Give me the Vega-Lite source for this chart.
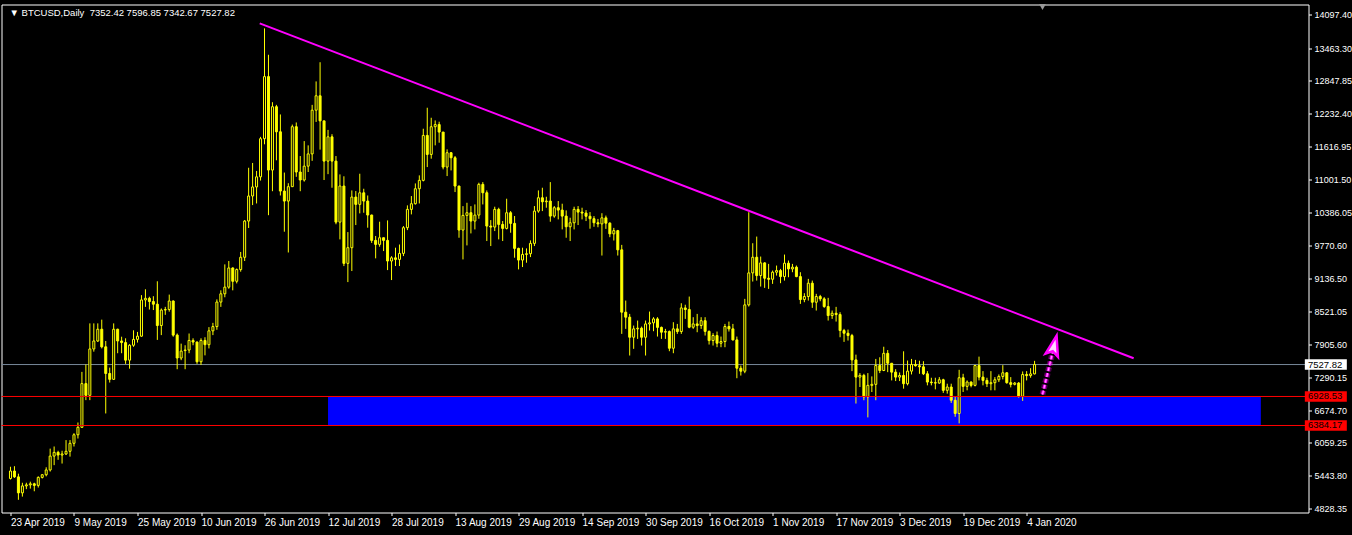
{
"$schema":"https://vega.github.io/schema/vega-lite/v6.json",
"width":1307,"height":508,
"autosize":{"type":"none"},
"padding":{"left":1.5,"top":4.5,"right":43.5,"bottom":22.5},
"background":"#000000",
"config":{"view":{"stroke":"#ffffff","strokeWidth":1},"axis":{"grid":false,"domain":false,"labelColor":"#ffffff","tickColor":"#ffffff","labelFont":"Liberation Sans","labelOverlap":false,"labelBound":false,"labelFlush":false}},
"title":{"text":"▼  BTCUSD,Daily\u00a0 7352.42 7596.85 7342.67 7527.82","anchor":"start","frame":"group","orient":"top","offset":-13,"dx":8,"font":"Liberation Sans","fontSize":9.5,"fontWeight":"normal","color":"#ffffff"},
"datasets":{
"candles":[
{"d":"2019-04-23","o":5390,"h":5610,"l":5370,"c":5530},
{"d":"2019-04-24","o":5530,"h":5620,"l":5400,"c":5420},
{"d":"2019-04-25","o":5420,"h":5480,"l":4990,"c":5120},
{"d":"2019-04-26","o":5120,"h":5310,"l":5050,"c":5250},
{"d":"2019-04-27","o":5250,"h":5310,"l":5190,"c":5270},
{"d":"2019-04-28","o":5270,"h":5330,"l":5200,"c":5290},
{"d":"2019-04-29","o":5290,"h":5310,"l":5150,"c":5260},
{"d":"2019-04-30","o":5260,"h":5430,"l":5220,"c":5410},
{"d":"2019-05-01","o":5410,"h":5470,"l":5390,"c":5460},
{"d":"2019-05-02","o":5460,"h":5600,"l":5430,"c":5550},
{"d":"2019-05-03","o":5550,"h":5950,"l":5520,"c":5810},
{"d":"2019-05-04","o":5810,"h":5990,"l":5640,"c":5880},
{"d":"2019-05-05","o":5880,"h":5910,"l":5740,"c":5830},
{"d":"2019-05-06","o":5830,"h":5910,"l":5670,"c":5850},
{"d":"2019-05-07","o":5850,"h":6110,"l":5830,"c":5900},
{"d":"2019-05-08","o":5900,"h":6110,"l":5800,"c":6050},
{"d":"2019-05-09","o":6050,"h":6240,"l":5990,"c":6210},
{"d":"2019-05-10","o":6210,"h":6440,"l":6140,"c":6350},
{"d":"2019-05-11","o":6350,"h":7390,"l":6340,"c":7170},
{"d":"2019-05-12","o":7170,"h":7530,"l":6860,"c":6950},
{"d":"2019-05-13","o":6950,"h":8300,"l":6860,"c":7820},
{"d":"2019-05-14","o":7820,"h":8300,"l":7770,"c":7970},
{"d":"2019-05-15","o":7970,"h":8300,"l":7950,"c":8190},
{"d":"2019-05-16","o":8190,"h":8370,"l":7830,"c":7860},
{"d":"2019-05-17","o":7860,"h":7970,"l":6610,"c":7360},
{"d":"2019-05-18","o":7360,"h":7470,"l":7190,"c":7250},
{"d":"2019-05-19","o":7250,"h":8300,"l":7240,"c":8190},
{"d":"2019-05-20","o":8190,"h":8200,"l":7740,"c":7970},
{"d":"2019-05-21","o":7970,"h":8050,"l":7740,"c":7940},
{"d":"2019-05-22","o":7940,"h":8020,"l":7540,"c":7610},
{"d":"2019-05-23","o":7610,"h":7910,"l":7450,"c":7890},
{"d":"2019-05-24","o":7890,"h":8170,"l":7860,"c":8000},
{"d":"2019-05-25","o":8000,"h":8140,"l":7940,"c":8060},
{"d":"2019-05-26","o":8060,"h":8830,"l":8050,"c":8740},
{"d":"2019-05-27","o":8740,"h":8940,"l":8610,"c":8770},
{"d":"2019-05-28","o":8770,"h":8800,"l":8560,"c":8710},
{"d":"2019-05-29","o":8710,"h":8810,"l":8550,"c":8660},
{"d":"2019-05-30","o":8660,"h":9090,"l":7990,"c":8260},
{"d":"2019-05-31","o":8260,"h":8580,"l":8080,"c":8550},
{"d":"2019-06-01","o":8550,"h":8610,"l":8460,"c":8560},
{"d":"2019-06-02","o":8560,"h":8840,"l":8520,"c":8720},
{"d":"2019-06-03","o":8720,"h":8730,"l":8050,"c":8080},
{"d":"2019-06-04","o":8080,"h":8110,"l":7440,"c":7650},
{"d":"2019-06-05","o":7650,"h":7920,"l":7610,"c":7780},
{"d":"2019-06-06","o":7790,"h":7890,"l":7440,"c":7800},
{"d":"2019-06-07","o":7800,"h":8110,"l":7740,"c":7980},
{"d":"2019-06-08","o":7980,"h":8020,"l":7890,"c":7950},
{"d":"2019-06-09","o":7950,"h":7960,"l":7540,"c":7580},
{"d":"2019-06-10","o":7580,"h":8020,"l":7520,"c":7980},
{"d":"2019-06-11","o":7980,"h":8040,"l":7700,"c":7900},
{"d":"2019-06-12","o":7900,"h":8230,"l":7830,"c":8160},
{"d":"2019-06-13","o":8160,"h":8310,"l":8080,"c":8240},
{"d":"2019-06-14","o":8240,"h":8750,"l":8180,"c":8700},
{"d":"2019-06-15","o":8700,"h":8920,"l":8610,"c":8855},
{"d":"2019-06-16","o":8855,"h":9407,"l":8790,"c":8980},
{"d":"2019-06-17","o":8980,"h":9470,"l":8950,"c":9340},
{"d":"2019-06-18","o":9340,"h":9350,"l":8920,"c":9090},
{"d":"2019-06-19","o":9090,"h":9330,"l":9050,"c":9310},
{"d":"2019-06-20","o":9310,"h":9640,"l":9270,"c":9540},
{"d":"2019-06-21","o":9540,"h":10240,"l":9470,"c":10220},
{"d":"2019-06-22","o":10220,"h":11220,"l":10090,"c":10690},
{"d":"2019-06-23","o":10690,"h":11310,"l":10520,"c":10860},
{"d":"2019-06-24","o":10860,"h":11160,"l":10550,"c":11050},
{"d":"2019-06-25","o":11050,"h":11800,"l":10980,"c":11765},
{"d":"2019-06-26","o":11765,"h":13835,"l":11660,"c":12930},
{"d":"2019-06-27","o":12930,"h":13340,"l":10330,"c":11177},
{"d":"2019-06-28","o":11177,"h":12450,"l":10780,"c":12365},
{"d":"2019-06-29","o":12365,"h":12400,"l":11360,"c":11895},
{"d":"2019-06-30","o":11895,"h":12220,"l":10700,"c":10783},
{"d":"2019-07-01","o":10783,"h":11130,"l":10020,"c":10595},
{"d":"2019-07-02","o":10595,"h":10930,"l":9630,"c":10865},
{"d":"2019-07-03","o":10865,"h":12030,"l":10860,"c":11990},
{"d":"2019-07-04","o":11990,"h":12070,"l":11050,"c":11140},
{"d":"2019-07-05","o":11140,"h":11440,"l":10780,"c":10990},
{"d":"2019-07-06","o":10990,"h":11720,"l":10960,"c":11250},
{"d":"2019-07-07","o":11250,"h":11640,"l":11140,"c":11480},
{"d":"2019-07-08","o":11480,"h":12400,"l":11350,"c":12300},
{"d":"2019-07-09","o":12300,"h":12840,"l":12080,"c":12570},
{"d":"2019-07-10","o":12570,"h":13200,"l":11560,"c":12100},
{"d":"2019-07-11","o":12100,"h":12100,"l":10990,"c":11345},
{"d":"2019-07-12","o":11345,"h":11930,"l":11100,"c":11800},
{"d":"2019-07-13","o":11800,"h":11850,"l":10845,"c":11345},
{"d":"2019-07-14","o":11345,"h":11440,"l":10160,"c":10200},
{"d":"2019-07-15","o":10200,"h":11095,"l":9876,"c":10877},
{"d":"2019-07-16","o":10877,"h":11060,"l":9375,"c":9426},
{"d":"2019-07-17","o":9426,"h":10013,"l":9075,"c":9720},
{"d":"2019-07-18","o":9720,"h":10795,"l":9282,"c":10670},
{"d":"2019-07-19","o":10670,"h":10783,"l":10145,"c":10533},
{"d":"2019-07-20","o":10533,"h":11108,"l":10364,"c":10750},
{"d":"2019-07-21","o":10750,"h":10826,"l":10376,"c":10595},
{"d":"2019-07-22","o":10595,"h":10700,"l":10095,"c":10333},
{"d":"2019-07-23","o":10333,"h":10340,"l":9810,"c":9857},
{"d":"2019-07-24","o":9857,"h":9940,"l":9520,"c":9782},
{"d":"2019-07-25","o":9782,"h":10208,"l":9738,"c":9907},
{"d":"2019-07-26","o":9907,"h":9910,"l":9657,"c":9857},
{"d":"2019-07-27","o":9857,"h":10232,"l":9300,"c":9470},
{"d":"2019-07-28","o":9470,"h":9560,"l":9113,"c":9530},
{"d":"2019-07-29","o":9530,"h":9720,"l":9376,"c":9500},
{"d":"2019-07-30","o":9500,"h":9780,"l":9376,"c":9613},
{"d":"2019-07-31","o":9613,"h":10126,"l":9563,"c":10095},
{"d":"2019-08-01","o":10095,"h":10514,"l":10050,"c":10439},
{"d":"2019-08-02","o":10439,"h":10689,"l":10345,"c":10545},
{"d":"2019-08-03","o":10545,"h":10926,"l":10530,"c":10826},
{"d":"2019-08-04","o":10826,"h":11077,"l":10550,"c":10983},
{"d":"2019-08-05","o":10983,"h":11952,"l":10964,"c":11827},
{"d":"2019-08-06","o":11827,"h":12346,"l":11233,"c":11470},
{"d":"2019-08-07","o":11470,"h":12158,"l":11390,"c":11990},
{"d":"2019-08-08","o":11990,"h":12108,"l":11640,"c":12030},
{"d":"2019-08-09","o":12030,"h":12084,"l":11690,"c":11890},
{"d":"2019-08-10","o":11890,"h":11890,"l":11190,"c":11233},
{"d":"2019-08-11","o":11233,"h":11565,"l":11064,"c":11502},
{"d":"2019-08-12","o":11502,"h":11515,"l":11170,"c":11408},
{"d":"2019-08-13","o":11408,"h":11440,"l":10764,"c":10877},
{"d":"2019-08-14","o":10877,"h":10880,"l":9907,"c":10051},
{"d":"2019-08-15","o":10051,"h":10500,"l":9500,"c":10326},
{"d":"2019-08-16","o":10326,"h":10563,"l":9763,"c":10376},
{"d":"2019-08-17","o":10376,"h":10500,"l":9988,"c":10220},
{"d":"2019-08-18","o":10220,"h":10532,"l":10063,"c":10332},
{"d":"2019-08-19","o":10332,"h":10939,"l":10263,"c":10908},
{"d":"2019-08-20","o":10908,"h":10951,"l":10532,"c":10751},
{"d":"2019-08-21","o":10751,"h":10795,"l":9845,"c":10126},
{"d":"2019-08-22","o":10126,"h":10238,"l":9751,"c":10107},
{"d":"2019-08-23","o":10107,"h":10489,"l":10032,"c":10439},
{"d":"2019-08-24","o":10439,"h":10470,"l":9876,"c":10157},
{"d":"2019-08-25","o":10157,"h":10220,"l":9845,"c":10082},
{"d":"2019-08-26","o":10082,"h":10639,"l":10063,"c":10376},
{"d":"2019-08-27","o":10376,"h":10407,"l":10001,"c":10176},
{"d":"2019-08-28","o":10176,"h":10314,"l":9532,"c":9707},
{"d":"2019-08-29","o":9707,"h":9720,"l":9313,"c":9488},
{"d":"2019-08-30","o":9488,"h":9720,"l":9357,"c":9594},
{"d":"2019-08-31","o":9594,"h":9707,"l":9438,"c":9607},
{"d":"2019-09-01","o":9607,"h":9857,"l":9544,"c":9801},
{"d":"2019-09-02","o":9801,"h":10501,"l":9751,"c":10407},
{"d":"2019-09-03","o":10407,"h":10795,"l":10376,"c":10657},
{"d":"2019-09-04","o":10657,"h":10845,"l":10407,"c":10582},
{"d":"2019-09-05","o":10582,"h":10676,"l":10470,"c":10595},
{"d":"2019-09-06","o":10595,"h":10951,"l":10207,"c":10313},
{"d":"2019-09-07","o":10313,"h":10501,"l":10282,"c":10470},
{"d":"2019-09-08","o":10470,"h":10595,"l":10251,"c":10426},
{"d":"2019-09-09","o":10426,"h":10545,"l":10063,"c":10313},
{"d":"2019-09-10","o":10313,"h":10420,"l":9907,"c":10113},
{"d":"2019-09-11","o":10113,"h":10282,"l":9845,"c":10188},
{"d":"2019-09-12","o":10188,"h":10489,"l":10063,"c":10439},
{"d":"2019-09-13","o":10439,"h":10501,"l":10145,"c":10388},
{"d":"2019-09-14","o":10388,"h":10470,"l":10251,"c":10370},
{"d":"2019-09-15","o":10370,"h":10426,"l":10220,"c":10310},
{"d":"2019-09-16","o":10310,"h":10388,"l":10076,"c":10264},
{"d":"2019-09-17","o":10264,"h":10313,"l":10113,"c":10188},
{"d":"2019-09-18","o":10188,"h":10260,"l":10104,"c":10167},
{"d":"2019-09-19","o":10167,"h":10367,"l":9573,"c":10280},
{"d":"2019-09-20","o":10280,"h":10323,"l":10073,"c":10180},
{"d":"2019-09-21","o":10180,"h":10198,"l":9917,"c":9980},
{"d":"2019-09-22","o":9980,"h":10092,"l":9855,"c":10040},
{"d":"2019-09-23","o":10040,"h":10054,"l":9573,"c":9680},
{"d":"2019-09-24","o":9680,"h":9773,"l":8103,"c":8510},
{"d":"2019-09-25","o":8510,"h":8728,"l":8197,"c":8416},
{"d":"2019-09-26","o":8416,"h":8478,"l":7697,"c":8040},
{"d":"2019-09-27","o":8040,"h":8259,"l":7822,"c":8197},
{"d":"2019-09-28","o":8197,"h":8353,"l":8009,"c":8210},
{"d":"2019-09-29","o":8210,"h":8240,"l":7884,"c":8040},
{"d":"2019-09-30","o":8040,"h":8353,"l":7697,"c":8290},
{"d":"2019-10-01","o":8290,"h":8522,"l":8166,"c":8310},
{"d":"2019-10-02","o":8310,"h":8416,"l":8153,"c":8384},
{"d":"2019-10-03","o":8384,"h":8416,"l":8053,"c":8225},
{"d":"2019-10-04","o":8225,"h":8240,"l":8009,"c":8135},
{"d":"2019-10-05","o":8135,"h":8197,"l":8009,"c":8147},
{"d":"2019-10-06","o":8147,"h":8166,"l":7778,"c":7834},
{"d":"2019-10-07","o":7834,"h":8322,"l":7740,"c":8197},
{"d":"2019-10-08","o":8197,"h":8290,"l":8103,"c":8147},
{"d":"2019-10-09","o":8147,"h":8678,"l":8103,"c":8590},
{"d":"2019-10-10","o":8590,"h":8650,"l":8384,"c":8560},
{"d":"2019-10-11","o":8560,"h":8803,"l":8209,"c":8228},
{"d":"2019-10-12","o":8228,"h":8416,"l":8197,"c":8290},
{"d":"2019-10-13","o":8290,"h":8478,"l":8134,"c":8260},
{"d":"2019-10-14","o":8260,"h":8416,"l":8197,"c":8350},
{"d":"2019-10-15","o":8350,"h":8416,"l":8072,"c":8150},
{"d":"2019-10-16","o":8150,"h":8166,"l":7903,"c":7978},
{"d":"2019-10-17","o":7978,"h":8116,"l":7884,"c":8072},
{"d":"2019-10-18","o":8072,"h":8147,"l":7853,"c":7928},
{"d":"2019-10-19","o":7928,"h":8053,"l":7853,"c":7959},
{"d":"2019-10-20","o":7959,"h":8290,"l":7853,"c":8241},
{"d":"2019-10-21","o":8241,"h":8334,"l":8147,"c":8197},
{"d":"2019-10-22","o":8197,"h":8290,"l":7978,"c":7990},
{"d":"2019-10-23","o":7990,"h":8053,"l":7271,"c":7459},
{"d":"2019-10-24","o":7459,"h":7509,"l":7321,"c":7403},
{"d":"2019-10-25","o":7403,"h":8760,"l":7365,"c":8647},
{"d":"2019-10-26","o":8647,"h":10386,"l":8616,"c":9247},
{"d":"2019-10-27","o":9247,"h":9804,"l":9085,"c":9541},
{"d":"2019-10-28","o":9541,"h":9929,"l":9103,"c":9197},
{"d":"2019-10-29","o":9197,"h":9554,"l":8991,"c":9435},
{"d":"2019-10-30","o":9435,"h":9447,"l":8966,"c":9147},
{"d":"2019-10-31","o":9147,"h":9416,"l":8947,"c":9128},
{"d":"2019-11-01","o":9128,"h":9291,"l":9041,"c":9260},
{"d":"2019-11-02","o":9260,"h":9385,"l":9197,"c":9291},
{"d":"2019-11-03","o":9291,"h":9322,"l":9054,"c":9178},
{"d":"2019-11-04","o":9178,"h":9591,"l":9103,"c":9429},
{"d":"2019-11-05","o":9429,"h":9479,"l":9166,"c":9322},
{"d":"2019-11-06","o":9322,"h":9416,"l":9260,"c":9354},
{"d":"2019-11-07","o":9354,"h":9385,"l":9166,"c":9178},
{"d":"2019-11-08","o":9178,"h":9260,"l":8666,"c":8747},
{"d":"2019-11-09","o":8747,"h":8866,"l":8697,"c":8804},
{"d":"2019-11-10","o":8804,"h":9135,"l":8728,"c":9054},
{"d":"2019-11-11","o":9054,"h":9103,"l":8591,"c":8697},
{"d":"2019-11-12","o":8697,"h":8854,"l":8541,"c":8804},
{"d":"2019-11-13","o":8804,"h":8835,"l":8716,"c":8760},
{"d":"2019-11-14","o":8760,"h":8791,"l":8591,"c":8616},
{"d":"2019-11-15","o":8616,"h":8779,"l":8353,"c":8447},
{"d":"2019-11-16","o":8447,"h":8541,"l":8384,"c":8490},
{"d":"2019-11-17","o":8490,"h":8610,"l":8334,"c":8466},
{"d":"2019-11-18","o":8466,"h":8510,"l":8040,"c":8166},
{"d":"2019-11-19","o":8166,"h":8197,"l":7953,"c":8115},
{"d":"2019-11-20","o":8115,"h":8184,"l":7978,"c":8072},
{"d":"2019-11-21","o":8072,"h":8103,"l":7404,"c":7615},
{"d":"2019-11-22","o":7615,"h":7714,"l":6796,"c":7292},
{"d":"2019-11-23","o":7292,"h":7367,"l":7106,"c":7324},
{"d":"2019-11-24","o":7324,"h":7354,"l":6858,"c":6920},
{"d":"2019-11-25","o":6920,"h":7367,"l":6536,"c":7137},
{"d":"2019-11-26","o":7137,"h":7305,"l":7012,"c":7156},
{"d":"2019-11-27","o":7156,"h":7633,"l":6858,"c":7509},
{"d":"2019-11-28","o":7509,"h":7664,"l":7367,"c":7416},
{"d":"2019-11-29","o":7416,"h":7862,"l":7404,"c":7738},
{"d":"2019-11-30","o":7738,"h":7800,"l":7385,"c":7552},
{"d":"2019-12-01","o":7552,"h":7552,"l":7230,"c":7385},
{"d":"2019-12-02","o":7385,"h":7441,"l":7218,"c":7292},
{"d":"2019-12-03","o":7292,"h":7379,"l":7218,"c":7323},
{"d":"2019-12-04","o":7323,"h":7776,"l":7075,"c":7168},
{"d":"2019-12-05","o":7168,"h":7603,"l":7137,"c":7404},
{"d":"2019-12-06","o":7404,"h":7633,"l":7342,"c":7528},
{"d":"2019-12-07","o":7528,"h":7615,"l":7490,"c":7505},
{"d":"2019-12-08","o":7505,"h":7600,"l":7354,"c":7485},
{"d":"2019-12-09","o":7485,"h":7590,"l":7330,"c":7354},
{"d":"2019-12-10","o":7354,"h":7404,"l":7137,"c":7199},
{"d":"2019-12-11","o":7199,"h":7280,"l":7137,"c":7187},
{"d":"2019-12-12","o":7187,"h":7280,"l":7062,"c":7180},
{"d":"2019-12-13","o":7180,"h":7292,"l":7168,"c":7242},
{"d":"2019-12-14","o":7242,"h":7261,"l":6995,"c":7044},
{"d":"2019-12-15","o":7044,"h":7168,"l":6982,"c":7106},
{"d":"2019-12-16","o":7106,"h":7168,"l":6808,"c":6858},
{"d":"2019-12-17","o":6858,"h":6932,"l":6548,"c":6610},
{"d":"2019-12-18","o":6610,"h":7429,"l":6424,"c":7280},
{"d":"2019-12-19","o":7280,"h":7354,"l":7013,"c":7118},
{"d":"2019-12-20","o":7118,"h":7230,"l":7044,"c":7199},
{"d":"2019-12-21","o":7199,"h":7212,"l":7100,"c":7137},
{"d":"2019-12-22","o":7137,"h":7521,"l":7118,"c":7509},
{"d":"2019-12-23","o":7509,"h":7676,"l":7230,"c":7292},
{"d":"2019-12-24","o":7292,"h":7404,"l":7137,"c":7230},
{"d":"2019-12-25","o":7230,"h":7280,"l":7106,"c":7168},
{"d":"2019-12-26","o":7168,"h":7404,"l":7044,"c":7187},
{"d":"2019-12-27","o":7187,"h":7292,"l":7044,"c":7242},
{"d":"2019-12-28","o":7242,"h":7342,"l":7199,"c":7304},
{"d":"2019-12-29","o":7304,"h":7516,"l":7249,"c":7373},
{"d":"2019-12-30","o":7373,"h":7385,"l":7168,"c":7187},
{"d":"2019-12-31","o":7187,"h":7292,"l":7099,"c":7156},
{"d":"2020-01-01","o":7156,"h":7199,"l":7137,"c":7180},
{"d":"2020-01-02","o":7180,"h":7199,"l":6907,"c":6932},
{"d":"2020-01-03","o":6932,"h":7398,"l":6846,"c":7342},
{"d":"2020-01-04","o":7342,"h":7404,"l":7230,"c":7320},
{"d":"2020-01-05","o":7320,"h":7460,"l":7280,"c":7352.42},
{"d":"2020-01-06","o":7352.42,"h":7596.85,"l":7342.67,"c":7527.82}
],
"zone":[{"start":"2019-07-12","end":"2020-03-03","top":6928.53,"bottom":6384.17}],
"levels":[{"price":6928.53},{"price":6384.17}],
"bid":[{"price":7527.82}],
"trend":[{"t":"2019-06-24T19:00:00Z","p":13930},{"t":"2020-01-30T23:00:00Z","p":7645}],
"arrow":[{"t":"2020-01-08T00:00:00Z","p":6966},{"t":"2020-01-10T15:00:00Z","p":7782}],
"arrowhead":[{"t":"2020-01-10T21:36:00Z","p":7876}],
"shift":[{"t":"2020-01-08T00:00:00Z","p":14236}],
"tags":[{"price":7527.82,"label":"7527.82","kind":"bid","box":"2020-03-19T09:00:00Z","txt":"2020-03-14T21:00:00Z"},{"price":6928.53,"label":"6928.53","kind":"level","box":"2020-03-19T09:00:00Z","txt":"2020-03-14T21:00:00Z"},{"price":6384.17,"label":"6384.17","kind":"level","box":"2020-03-19T09:00:00Z","txt":"2020-03-14T21:00:00Z"}]
},
"layer":[
{"data":{"name":"zone"},"mark":{"type":"rect","fill":"#0000ff"},
 "encoding":{
  "x":{"field":"start","type":"temporal","title":null,"scale":{"type":"utc","domain":[1555891200000,1584122400000],"nice":false},
   "axis":{"values":[1555977600000,1557360000000,1558742400000,1560124800000,1561507200000,1562889600000,1564272000000,1565654400000,1567036800000,1568419200000,1569801600000,1571184000000,1572566400000,1573948800000,1575331200000,1576713600000,1578096000000],"tickCount":40,"format":"%-d %b %Y","labelAlign":"left","labelBaseline":"top","tickSize":3,"labelPadding":2,"labelFontSize":10,"labelFlush":false,"labelOverlap":false,"title":null}},
  "x2":{"field":"end"},
  "y":{"field":"top","type":"quantitative","title":null,"scale":{"domain":[4751.6,14283.2],"zero":false,"nice":false},
   "axis":{"orient":"right","values":[14097.40,13463.30,12847.85,12232.40,11616.95,11001.50,10386.05,9770.60,9136.50,8521.05,7905.60,7290.15,6674.70,6059.25,5443.80,4828.35],"tickCount":40,"format":".2f","labelAlign":"left","labelBaseline":"middle","tickSize":3,"labelPadding":2.5,"labelFontSize":9,"labelOverlap":false,"labelFlush":false,"title":null}},
  "y2":{"field":"bottom"}}},
{"data":{"name":"bid"},"mark":{"type":"rule","color":"#778899","strokeWidth":1},
 "encoding":{"y":{"field":"price","type":"quantitative","title":null,"scale":{"domain":[4751.6,14283.2],"zero":false,"nice":false},"axis":{"orient":"right","title":null}}}},
{"data":{"name":"candles"},"mark":{"type":"rule","color":"#ffff00","strokeWidth":1},
 "encoding":{
  "x":{"field":"d","type":"temporal","title":null,"scale":{"type":"utc","domain":[1555891200000,1584122400000],"nice":false},"axis":{"title":null}},
  "y":{"field":"l","type":"quantitative","title":null,"scale":{"domain":[4751.6,14283.2],"zero":false,"nice":false},"axis":{"orient":"right","title":null}},
  "y2":{"field":"h"}}},
{"data":{"name":"candles"},"mark":{"type":"bar","size":2,"stroke":"#ffff00","strokeWidth":1,"orient":"vertical"},
 "encoding":{
  "x":{"field":"d","type":"temporal","title":null,"scale":{"type":"utc","domain":[1555891200000,1584122400000],"nice":false},"axis":{"title":null}},
  "y":{"field":"o","type":"quantitative","title":null,"scale":{"domain":[4751.6,14283.2],"zero":false,"nice":false},"axis":{"orient":"right","title":null}},
  "y2":{"field":"c"},
  "fill":{"condition":{"test":"datum.c < datum.o","value":"#ffff00"},"value":"#000000"}}},
{"data":{"name":"levels"},"mark":{"type":"rule","color":"#ff0000","strokeWidth":1},
 "encoding":{"y":{"field":"price","type":"quantitative","title":null,"scale":{"domain":[4751.6,14283.2],"zero":false,"nice":false},"axis":{"orient":"right","title":null}}}},
{"data":{"name":"trend"},"mark":{"type":"line","color":"#ff00ff","strokeWidth":2},
 "encoding":{
  "x":{"field":"t","type":"temporal","title":null,"scale":{"type":"utc","domain":[1555891200000,1584122400000],"nice":false},"axis":{"title":null}},
  "y":{"field":"p","type":"quantitative","title":null,"scale":{"domain":[4751.6,14283.2],"zero":false,"nice":false},"axis":{"orient":"right","title":null}}}},
{"data":{"name":"arrow"},"mark":{"type":"line","color":"#ff00ff","strokeWidth":6,"opacity":0.3,"strokeDash":[4,2]},
 "encoding":{
  "x":{"field":"t","type":"temporal","title":null,"scale":{"type":"utc","domain":[1555891200000,1584122400000],"nice":false},"axis":{"title":null}},
  "y":{"field":"p","type":"quantitative","title":null,"scale":{"domain":[4751.6,14283.2],"zero":false,"nice":false},"axis":{"orient":"right","title":null}}}},
{"data":{"name":"arrow"},"mark":{"type":"line","color":"#ff00ff","strokeWidth":3,"strokeDash":[4,2]},
 "encoding":{
  "x":{"field":"t","type":"temporal","title":null,"scale":{"type":"utc","domain":[1555891200000,1584122400000],"nice":false},"axis":{"title":null}},
  "y":{"field":"p","type":"quantitative","title":null,"scale":{"domain":[4751.6,14283.2],"zero":false,"nice":false},"axis":{"orient":"right","title":null}}}},
{"data":{"name":"arrow"},"mark":{"type":"line","color":"#ffb0ff","strokeWidth":1,"strokeDash":[4,2]},
 "encoding":{
  "x":{"field":"t","type":"temporal","title":null,"scale":{"type":"utc","domain":[1555891200000,1584122400000],"nice":false},"axis":{"title":null}},
  "y":{"field":"p","type":"quantitative","title":null,"scale":{"domain":[4751.6,14283.2],"zero":false,"nice":false},"axis":{"orient":"right","title":null}}}},
{"data":{"name":"arrowhead"},"mark":{"type":"point","shape":"M0,-1L0.6,0.9L0,0.5L-0.6,0.9Z","size":450,"angle":14,"filled":true,"fill":"#ffd8ff","stroke":"#ff00ff","strokeWidth":2.5,"opacity":1},
 "encoding":{
  "x":{"field":"t","type":"temporal","title":null,"scale":{"type":"utc","domain":[1555891200000,1584122400000],"nice":false},"axis":{"title":null}},
  "y":{"field":"p","type":"quantitative","title":null,"scale":{"domain":[4751.6,14283.2],"zero":false,"nice":false},"axis":{"orient":"right","title":null}}}},
{"data":{"name":"shift"},"mark":{"type":"point","shape":"triangle-down","size":45,"filled":true,"color":"#9a9a9a","opacity":1},
 "encoding":{
  "x":{"field":"t","type":"temporal","title":null,"scale":{"type":"utc","domain":[1555891200000,1584122400000],"nice":false},"axis":{"title":null}},
  "y":{"field":"p","type":"quantitative","title":null,"scale":{"domain":[4751.6,14283.2],"zero":false,"nice":false},"axis":{"orient":"right","title":null}}}},
{"data":{"name":"tags"},"mark":{"type":"point","shape":"M-1,-0.25L1,-0.25L1,0.25L-1,0.25Z","size":1764,"filled":true,"opacity":1,"strokeWidth":0},
 "encoding":{
  "x":{"field":"box","type":"temporal","title":null,"scale":{"type":"utc","domain":[1555891200000,1584122400000],"nice":false},"axis":{"title":null}},
  "y":{"field":"price","type":"quantitative","title":null,"scale":{"domain":[4751.6,14283.2],"zero":false,"nice":false},"axis":{"orient":"right","title":null}},
  "color":{"field":"kind","type":"nominal","scale":{"domain":["bid","level"],"range":["#ffffff","#ff0000"]},"legend":null}}},
{"data":{"name":"tags"},"mark":{"type":"text","align":"left","baseline":"middle","font":"Liberation Sans","fontSize":9.5,"color":"#000000"},
 "encoding":{
  "x":{"field":"txt","type":"temporal","title":null,"scale":{"type":"utc","domain":[1555891200000,1584122400000],"nice":false},"axis":{"title":null}},
  "y":{"field":"price","type":"quantitative","title":null,"scale":{"domain":[4751.6,14283.2],"zero":false,"nice":false},"axis":{"orient":"right","title":null}},
  "text":{"field":"label"}}}
]
}
